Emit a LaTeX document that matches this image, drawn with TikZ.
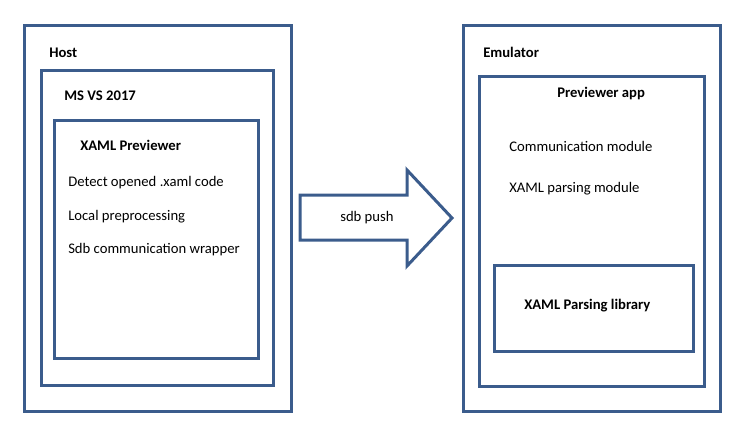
\documentclass[tikz,border=0pt]{standalone}
\usepackage{fontspec}
\setmainfont{Carlito}
\definecolor{boxblue}{HTML}{3B5C8C}
\begin{document}
\begin{tikzpicture}[x=0.75pt,y=-0.75pt,
  box/.style={draw=boxblue,line width=2.25pt,fill=white,inner sep=0pt,anchor=north west},
  lbl/.style={anchor=base west,inner sep=0pt,font=\fontsize{11}{13}\selectfont},
  blbl/.style={lbl,font=\fontsize{11}{13}\selectfont\bfseries}]
\useasboundingbox (0,0) rectangle (737,432);
% left side
\node[box,minimum width=267.5*0.75pt,minimum height=386*0.75pt] (host) at (22.5,24) {};
\node[blbl] (hostl) at (49,57) {Host};
\node[box,minimum width=232*0.75pt,minimum height=315*0.75pt] (msvs) at (40,69) {};
\node[blbl] (msvsl) at (64,100) {MS VS 2017};
\node[box,minimum width=204*0.75pt,minimum height=238*0.75pt] (prev) at (53,119) {};
\node[blbl] (prevl) at (80,150) {XAML Previewer};
\node[lbl] (t1) at (68,186) {Detect opened .xaml code};
\node[lbl] (t2) at (68,220) {Local preprocessing};
\node[lbl] (t3) at (68,253) {Sdb communication wrapper};
% arrow
\coordinate (a1) at (300,195);
\coordinate (a2) at (407,195);
\coordinate (a3) at (407,170);
\coordinate (a4) at (452,218);
\coordinate (a5) at (407,266);
\coordinate (a6) at (407,240);
\coordinate (a7) at (300,240);
\draw[draw=boxblue,line width=2.25pt,line join=miter] (a1) -- (a2) -- (a3) -- (a4) -- (a5) -- (a6) -- (a7) -- cycle;
\node[lbl] (push) at (340,221) {sdb push};
% right side
\node[box,minimum width=257*0.75pt,minimum height=386*0.75pt] (emu) at (462,24) {};
\node[blbl] (emul) at (483,57) {Emulator};
\node[box,minimum width=225*0.75pt,minimum height=310*0.75pt] (app) at (478,75) {};
\node[blbl] (appl) at (557,97) {Previewer app};
\node[lbl] (r1) at (509,151) {Communication module};
\node[lbl] (r2) at (509,192) {XAML parsing module};
\node[box,minimum width=199*0.75pt,minimum height=86*0.75pt] (lib) at (493,264) {};
\node[blbl] (libl) at (524,309) {XAML Parsing library};
\end{tikzpicture}
\end{document}
